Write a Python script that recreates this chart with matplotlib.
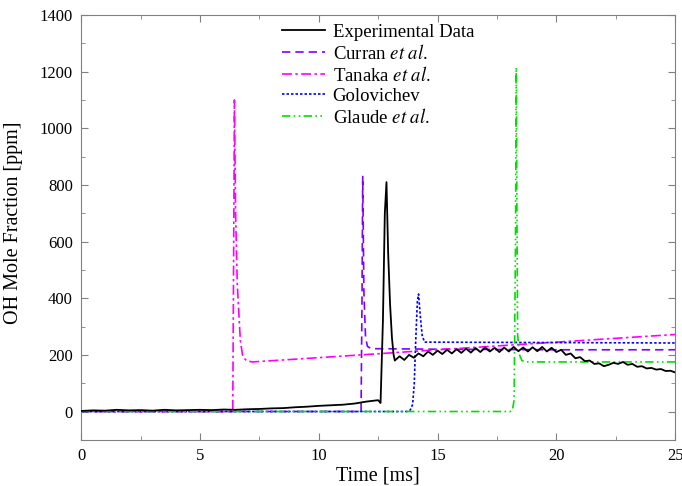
"""
OH mole fraction time history: experiment vs. four kinetic mechanisms.
"""
import matplotlib
matplotlib.use("Agg")
import matplotlib.pyplot as plt
from matplotlib import rcParams
from matplotlib.ticker import MultipleLocator

rcParams.update({
    "font.family": "Liberation Serif",
    "mathtext.fontset": "stix",
    "font.size": 12,
    "axes.labelsize": 14.5,
    "xtick.labelsize": 12,
    "ytick.labelsize": 12,
    "legend.fontsize": 13.5,
})

# ---------- data ----------
exp_t = [0, 0.5, 1, 1.5, 2, 2.5, 3, 3.5, 4, 4.5, 5, 5.5, 6, 6.5, 7, 7.5, 8,
         8.5, 9, 9.5, 10, 10.5, 11, 11.5, 12, 12.3, 12.5, 12.6, 12.7, 12.78,
         12.85, 12.92, 13.0, 13.08, 13.15,
         13.2, 13.4, 13.6, 13.8, 14.0, 14.2, 14.4, 14.6, 14.8, 15.0, 15.2,
         15.4, 15.6, 15.8, 16.0, 16.2, 16.4, 16.6, 16.8, 17.0, 17.2, 17.4,
         17.6, 17.8, 18.0, 18.2, 18.4, 18.6, 18.8, 19.0, 19.2, 19.4, 19.6,
         19.8, 20.0, 20.2, 20.4, 20.6, 20.8, 21.0, 21.2, 21.4, 21.6, 21.8,
         22.0, 22.2, 22.4, 22.6, 22.8, 23.0, 23.2, 23.4, 23.6, 23.8, 24.0,
         24.2, 24.4, 24.6, 24.8, 25.0]
exp_y = [2, 4, 3, 6, 4, 5, 3, 6, 4, 5, 6, 5, 7, 6, 8, 9, 11,
         12, 15, 17, 20, 22, 24, 28, 35, 38, 40, 30, 320, 700,
         810, 560, 380, 260, 200,
         180, 195, 182, 200, 190, 205, 195, 212, 200, 215, 203,
         218, 205, 220, 207, 222, 208, 224, 210, 226, 212, 225,
         210, 226, 212, 228, 213, 226, 212, 227, 213, 228, 212,
         225, 210, 218, 200, 205, 188, 192, 178, 180, 168, 170,
         160, 165, 172, 168, 175, 165, 168, 158, 160, 152, 154,
         148, 150, 143, 144, 138]

curran_t = [0, 11.78, 11.82, 11.85, 11.9, 11.97, 12.05, 12.2, 15, 20, 25]
curran_y = [0, 0, 400, 830, 420, 260, 230, 222, 220, 218, 218]

tanaka_t = [0, 6.38, 6.42, 6.45, 6.5, 6.57, 6.7, 6.8, 6.95, 7.2, 9.6,
            12.5, 15, 20, 25]
tanaka_y = [0, 0, 600, 1100, 700, 450, 250, 195, 180, 175, 188,
            204, 218, 245, 272]

golo_t = [0, 13.7, 13.85, 13.95, 14.02, 14.08, 14.15, 14.2, 14.27, 14.35,
          14.45, 25]
golo_y = [0, 0, 5, 25, 100, 250, 390, 415, 340, 270, 245, 242]

glaude_t = [0, 18.05, 18.15, 18.22, 18.28, 18.31, 18.34, 18.37, 18.45,
            18.55, 18.7, 25]
glaude_y = [0, 0, 5, 40, 600, 1215, 700, 270, 200, 180, 175, 175]

# ---------- figure ----------
fig = plt.figure(figsize=(6.82, 4.86), dpi=100)
ax = fig.add_axes([0.119, 0.095, 0.871, 0.874])

ax.plot(exp_t, exp_y, color="black", lw=1.3, label="Experimental Data",
        zorder=5)
ax.plot(curran_t, curran_y, color="#8000ff", lw=1.2, ls=(0, (5, 3)),
        label="Curran $\\it{et\\ al.}$")
ax.plot(tanaka_t, tanaka_y, color="#ff00ff", lw=1.2, ls=(0, (6, 2, 1.5, 2)),
        label="Tanaka $\\it{et\\ al.}$")
ax.plot(golo_t, golo_y, color="#0000ff", lw=1.2, ls=(0, (1.5, 1.2)),
        label="Golovichev")
ax.plot(glaude_t, glaude_y, color="#00e000", lw=1.2,
        ls=(0, (5, 2, 1, 2, 1, 2)), label="Glaude $\\it{et\\ al.}$")

ax.set_xlim(0, 25)
ax.set_ylim(-100, 1400)
ax.xaxis.set_major_locator(MultipleLocator(5))
ax.xaxis.set_minor_locator(MultipleLocator(2.5))
ax.yaxis.set_major_locator(MultipleLocator(200))
ax.yaxis.set_minor_locator(MultipleLocator(100))
ax.tick_params(which="both", direction="in", top=True, right=True,
               color="#808080", pad=6)
ax.tick_params(which="major", length=5)
ax.tick_params(which="minor", length=3)
for s in ax.spines.values():
    s.set_color("#808080")

ax.set_xlabel("Time [ms]")
ax.set_ylabel("OH Mole Fraction [ppm]")
ax.xaxis.set_label_coords(0.5, -0.062)
ax.yaxis.set_label_coords(-0.098, 0.51)

ax.legend(loc="upper left", bbox_to_anchor=(0.338, 0.98), frameon=False,
          handlelength=2.3, handletextpad=0.4, labelspacing=0.16,
          borderaxespad=0, borderpad=0)

fig.savefig("out.png", dpi=100)
